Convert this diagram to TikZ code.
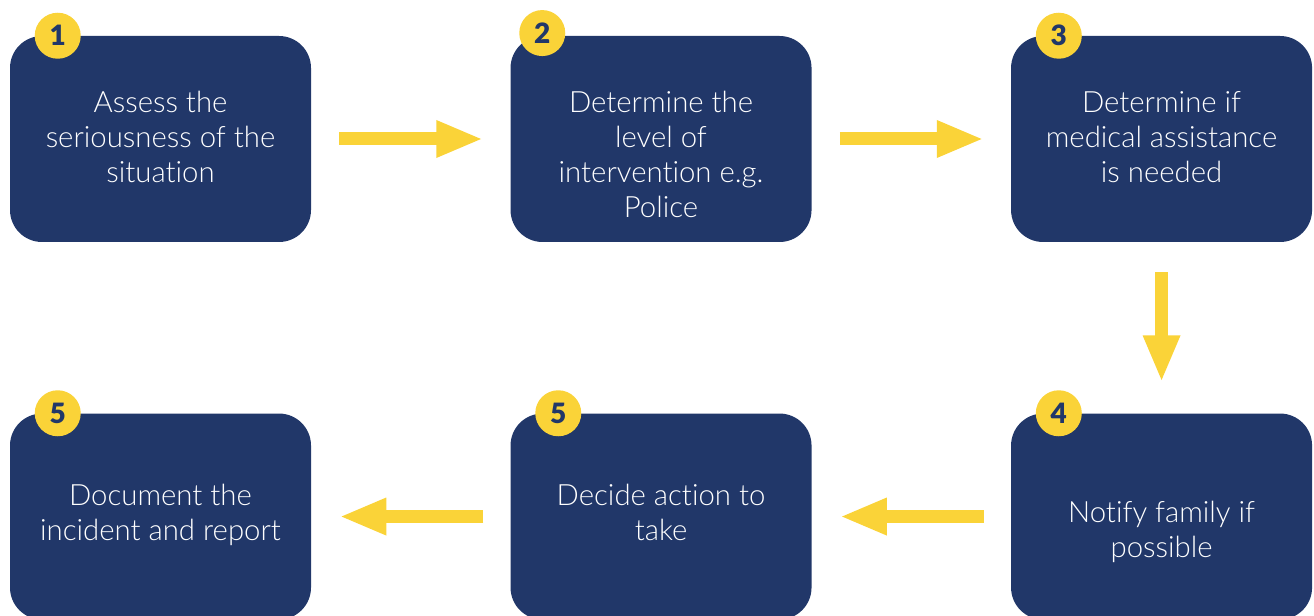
\documentclass[tikz,border=0pt]{standalone}
\usepackage{fontspec}
\setmainfont{Lato Light}[Ligatures={NoCommon}]
\newfontfamily\numfont{Lato Black}
\usetikzlibrary{positioning,arrows.meta}
\definecolor{marino}{HTML}{213769}
\definecolor{amarillo}{HTML}{FAD338}

\begin{document}
\begin{tikzpicture}[x=0.75pt, y=0.75pt,
    paso/.style={fill=marino, rounded corners=24pt, minimum width=225.75pt, minimum height=154.5pt, inner sep=0pt},
    texto/.style={text=white, align=center, inner sep=0pt, font=\fontsize{22pt}{26.25pt}\selectfont},
    numero/.style={circle, fill=amarillo, minimum size=34.5pt, inner sep=0pt, text=marino, font=\numfont\fontsize{21pt}{21pt}\selectfont},
    flecha/.style={amarillo, line width=9.75pt, -{Triangle[length=35.25pt, width=25.5pt]}}]
        \useasboundingbox (0,0) rectangle (1314,615);
        \clip (0,0) rectangle (1314,615);
        % cajas
        \node[paso] (s1) at (160.5,476) {};
        \node[paso, right=149.25pt of s1] (s2) {};
        \node[paso, right=149.25pt of s2] (s3) {};
        \node[paso, below=128.25pt of s3] (s4) {};
        \node[paso, left=149.25pt of s4] (s5) {};
        \node[paso, left=149.25pt of s5] (s6) {};
        % textos
        \node[texto, below=41.5pt of s1.north] (t1) {Assess the\\seriousness of the\\situation};
        \node[texto, below=41.5pt of s2.north] (t2) {Determine the\\level of\\intervention e.g.\\Police};
        \node[texto, below=41.5pt of s3.north] (t3) {Determine if\\medical assistance\\is needed};
        \node[texto, below=65.5pt of s4.north] (t4) {Notify family if\\possible};
        \node[texto, below=53pt of s5.north] (t5) {Decide action to\\take};
        \node[texto, below=53pt of s6.north] (t6) {Document the\\incident and report};
        % numeros
        \node[numero] (n1) at ([xshift=36pt]s1.north west) {1};
        \node[numero] (n2) at ([xshift=24pt, yshift=2pt]s2.north west) {2};
        \node[numero] (n3) at ([xshift=36pt]s3.north west) {3};
        \node[numero] (n4) at ([xshift=36pt]s4.north west) {4};
        \node[numero] (n5) at ([xshift=36pt]s5.north west) {5};
        \node[numero] (n6) at ([xshift=36pt]s6.north west) {5};
        % flechas
        \draw[flecha, shorten <=21pt, shorten >=20.25pt] (s1) -- (s2);
        \draw[flecha, shorten <=21pt, shorten >=20.25pt] (s2) -- (s3);
        \draw[flecha, shorten <=22.5pt, shorten >=23.25pt] (s3) -- (s4);
        \draw[flecha, shorten <=20.25pt, shorten >=21pt] (s4) -- (s5);
        \draw[flecha, shorten <=20.25pt, shorten >=21pt] (s5) -- (s6);
      \end{tikzpicture}
\end{document}
